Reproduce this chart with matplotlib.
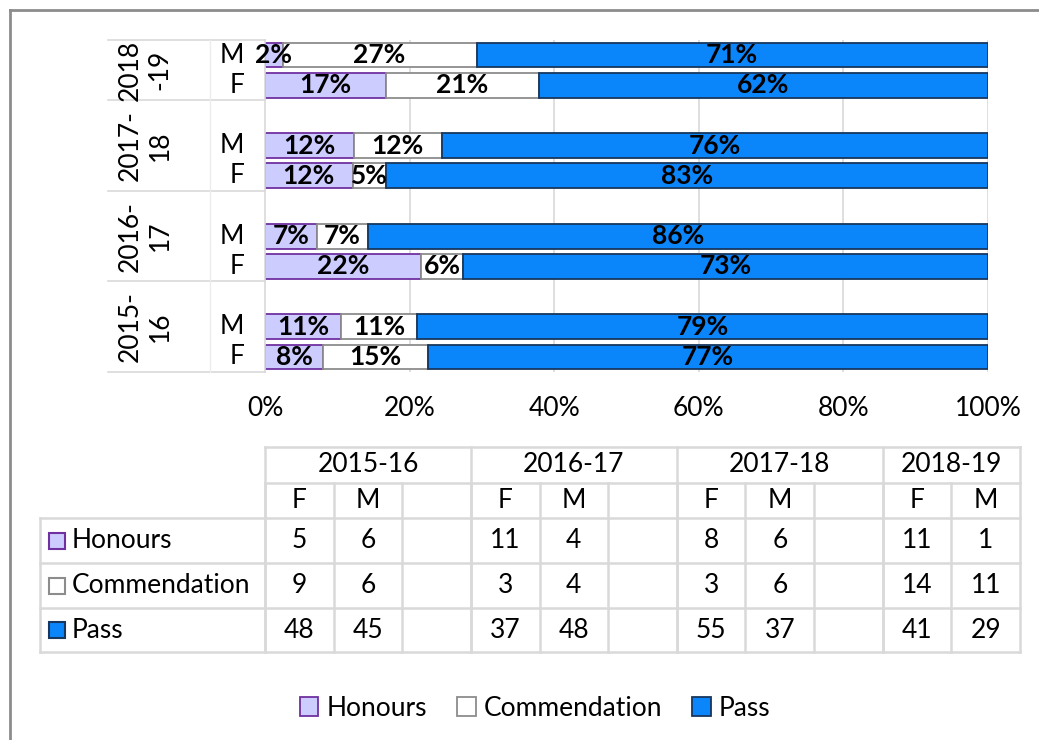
import matplotlib.pyplot as plt
from matplotlib.patches import Rectangle

# Counts per year, split by gender
years = ['2015-16', '2016-17', '2017-18', '2018-19']
genders = ['F', 'M']
honours_f = [5, 11, 8, 11]
honours_m = [6, 4, 6, 1]
comm_f = [9, 3, 3, 14]
comm_m = [6, 4, 6, 11]
pass_f = [48, 37, 55, 41]
pass_m = [45, 48, 37, 29]

series_names = ['Honours', 'Commendation', 'Pass']
fills = ['#CCCCFF', '#FFFFFF', '#0B85FA']
edges = ['#7030A0', '#8C8C8C', '#17375E']

plt.rcParams['font.family'] = ['Lato', 'DejaVu Sans']
FS = 19

W, H = 1039, 740
fig = plt.figure(figsize=(W / 100, H / 100), dpi=100)

# pixel overlay for borders and the table
ov = fig.add_axes([0, 0, 1, 1], zorder=0)
ov.set_xlim(0, W)
ov.set_ylim(H, 0)
ov.axis('off')

x0, x1 = 265, 988
y0, y1 = 40, 372
ax = fig.add_axes([x0 / W, 1 - y1 / H, (x1 - x0) / W, (y1 - y0) / H], zorder=1)

# build category slots: F, M, blank per year (no blank after the last year)
slots = []
for j, yr in enumerate(years):
    slots.append((yr, 'F', [honours_f[j], comm_f[j], pass_f[j]]))
    slots.append((yr, 'M', [honours_m[j], comm_m[j], pass_m[j]]))
    if j < len(years) - 1:
        slots.append((yr, '', None))

n = len(slots)
grid_c = '#D9D9D9'
ax.set_xlim(0, 1)
ax.set_ylim(-0.5, n - 0.5)
for g in [0.2, 0.4, 0.6, 0.8, 1.0]:
    ax.axvline(g, color=grid_c, lw=1.2, zorder=0)

handles = []
for i, (yr, g, vals) in enumerate(slots):
    if vals is None:
        continue
    tot = sum(vals)
    left = 0
    for k, v in enumerate(vals):
        p = v / tot
        b = ax.barh(i, p, left=left, height=0.82, color=fills[k],
                    edgecolor=edges[k], lw=1.3, zorder=2)
        if len(handles) < 3:
            handles.append(b)
        ax.text(left + p / 2, i, f'{p:.0%}', ha='center', va='center',
                fontsize=FS, fontweight='bold', zorder=3)
        left += p

ax.set_yticks([])
ax.set_xticks([0, 0.2, 0.4, 0.6, 0.8, 1.0])
ax.set_xticklabels(['0%', '20%', '40%', '60%', '80%', '100%'], fontsize=FS)
ax.tick_params(axis='x', length=0, pad=17)
for s in ['top', 'right', 'bottom']:
    ax.spines[s].set_visible(False)
ax.spines['left'].set_color(grid_c)
ax.spines['left'].set_linewidth(1.2)

# multi-level category labels on the left
tr = ax.get_yaxis_transform()
ax_w = x1 - x0
for i, (yr, g, vals) in enumerate(slots):
    if g:
        ax.text((244 - x0) / ax_w, i, g, transform=tr, ha='right',
                va='center', fontsize=FS)
bounds = [-0.5]
for j, yr in enumerate(years):
    idx = [i for i, s in enumerate(slots) if s[0] == yr]
    top = max(idx) + 0.5
    bounds.append(top)
    mid = (bounds[-2] + bounds[-1]) / 2
    a, b2 = yr.split('-')
    lab = f'{a}\n-{b2}' if j == len(years) - 1 else f'{a}-\n{b2}'
    ax.text((145 - x0) / ax_w, mid, lab, transform=tr, ha='center',
            va='center', rotation=90, fontsize=FS, linespacing=1.25)
for bnd in bounds:
    ax.plot([(108 - x0) / ax_w, 0], [bnd, bnd], transform=tr, color=grid_c,
            lw=1.2, clip_on=False)
ax.plot([(210 - x0) / ax_w] * 2, [-0.5, n - 0.5], transform=tr,
        color='#EDEDED', lw=1, clip_on=False)

# outer border
ov.plot([10, W], [10, 10], color='#8C8C8C', lw=2)
ov.plot([10, 10], [10, H], color='#8C8C8C', lw=2)

# data table below the chart
tl, tr_x = 265, 1020
cw = (tr_x - tl) / n
rows_y = [447, 483, 518, 563, 608, 652]
lc = '#D9D9D9'
lw = 1.8
# year header row
for j, yr in enumerate(years):
    idx = [i for i, s in enumerate(slots) if s[0] == yr]
    xa, xb = tl + min(idx) * cw, tl + (max(idx) + 1) * cw
    ov.plot([xa, xa], [rows_y[0], rows_y[-1]], color=lc, lw=lw)
    ov.text((xa + xb) / 2, (rows_y[0] + rows_y[1]) / 2, yr, ha='center',
            va='center', fontsize=FS)
ov.plot([tr_x, tr_x], [rows_y[0], rows_y[-1]], color=lc, lw=lw)
ov.plot([tl, tr_x], [rows_y[0], rows_y[0]], color=lc, lw=lw)
ov.plot([tl, tr_x], [rows_y[1], rows_y[1]], color=lc, lw=lw)
for i, (yr, g, vals) in enumerate(slots):
    xa = tl + i * cw
    ov.plot([xa, xa], [rows_y[1], rows_y[-1]], color=lc, lw=lw)
    ov.text(xa + cw / 2, (rows_y[1] + rows_y[2]) / 2, g, ha='center',
            va='center', fontsize=FS)
    if vals is not None:
        for r, v in enumerate(vals):
            ov.text(xa + cw / 2, (rows_y[r + 2] + rows_y[r + 3]) / 2, str(v),
                    ha='center', va='center', fontsize=FS)
for yy in rows_y[2:]:
    ov.plot([40, tr_x], [yy, yy], color=lc, lw=lw)
ov.plot([40, 40], [rows_y[2], rows_y[-1]], color=lc, lw=lw)
for r, name in enumerate(series_names):
    cy = (rows_y[r + 2] + rows_y[r + 3]) / 2
    ov.add_patch(Rectangle((49, cy - 8), 16, 16, facecolor=fills[r],
                           edgecolor=edges[r], lw=1.5))
    ov.text(72, cy, name, ha='left', va='center', fontsize=FS)

fig.legend(handles, series_names, loc='center', ncol=3, frameon=False,
           bbox_to_anchor=(0.515, 1 - 708 / H), fontsize=FS, handlelength=0.7,
           handleheight=0.7, handletextpad=0.3, columnspacing=1.15)

fig.savefig('out.png', dpi=100, facecolor='white')
